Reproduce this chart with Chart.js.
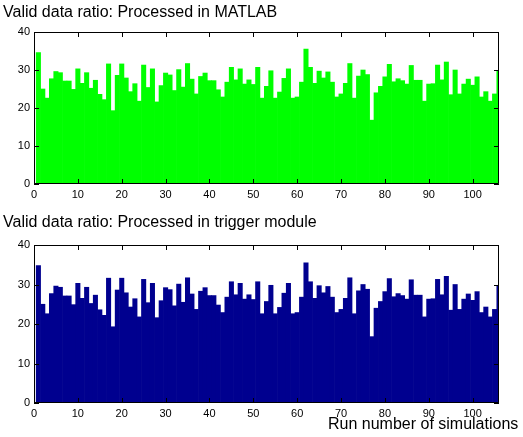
<!DOCTYPE html>
<html>
<head>
<meta charset="UTF-8">
<script src="https://cdn.jsdelivr.net/npm/chart.js@4.4.0/dist/chart.umd.min.js"></script>
<style>
  body { margin: 0; background: #fff; width: 523px; height: 437px; position: relative; overflow: hidden;
         font-family: "Liberation Sans", Arial, sans-serif; }
  .plot { position: absolute; left: 0; width: 523px; }
  .txt { position: absolute; font-size: 16px; line-height: 16px; color: #000; white-space: nowrap; }
</style>
</head>
<body>
<div class="plot" style="top:0; height:218px"><canvas id="topChart"></canvas></div>
<div class="plot" style="top:213px; height:224px"><canvas id="bottomChart"></canvas></div>
<div class="txt" style="left:3px; top:4px">Valid data ratio: Processed in MATLAB</div>
<div class="txt" style="left:3px; top:214px">Valid data ratio: Processed in trigger module</div>
<div class="txt" style="left:328px; top:416px">Run number of simulations</div>

<script>
  // valid data ratio per run (runs 1..106)
  const matlabRatio = [
    34.6, 25.0, 22.6, 27.7, 29.6, 29.3, 27.1, 27.1, 24.9, 30.3,
    26.5, 29.3, 25.2, 27.3, 23.6, 22.2, 31.6, 19.3, 28.6, 31.6,
    27.9, 24.3, 26.4, 21.8, 31.3, 25.4, 30.3, 21.6, 25.9, 29.2,
    28.7, 24.6, 30.1, 25.5, 31.7, 27.6, 23.7, 28.3, 29.2, 27.2,
    27.2, 24.8, 22.9, 26.8, 30.7, 27.4, 30.3, 26.3, 27.4, 26.2,
    30.7, 22.6, 25.7, 29.8, 22.6, 24.2, 27.8, 30.3, 22.6, 22.9,
    26.8, 35.5, 30.7, 26.5, 29.7, 27.9, 29.5, 26.8, 22.9, 23.7,
    26.5, 31.7, 22.6, 28.4, 30.0, 28.8, 16.8, 24.0, 25.7, 28.2,
    31.5, 26.9, 27.7, 27.2, 26.3, 31.2, 27.3, 27.3, 21.8, 26.3,
    26.4, 31.3, 27.4, 32.1, 23.5, 30.0, 23.7, 26.3, 27.6, 26.0,
    28.2, 22.9, 24.3, 21.8, 23.7, 29.8
  ];
  const triggerRatio = [
    34.8, 25.0, 22.6, 27.7, 29.6, 29.3, 27.1, 27.1, 24.9, 30.3,
    26.5, 29.3, 25.2, 27.3, 23.6, 22.2, 31.6, 19.3, 28.6, 31.6,
    27.9, 24.3, 26.4, 21.8, 31.3, 25.4, 30.3, 21.6, 25.9, 29.2,
    28.7, 24.6, 30.1, 25.5, 31.7, 27.6, 23.7, 28.3, 29.2, 27.2,
    27.2, 24.8, 22.9, 26.8, 30.7, 27.4, 30.3, 26.3, 27.4, 26.2,
    30.7, 22.6, 25.7, 29.8, 22.6, 24.2, 27.8, 30.3, 22.6, 22.9,
    26.8, 35.5, 30.7, 26.5, 29.7, 27.9, 29.5, 26.8, 22.9, 23.7,
    26.5, 31.7, 22.6, 28.4, 30.0, 28.8, 16.8, 24.0, 25.7, 28.2,
    31.5, 26.9, 27.7, 27.2, 26.3, 31.2, 27.3, 27.3, 21.8, 26.3,
    26.4, 31.3, 27.4, 32.1, 23.5, 30.0, 23.7, 26.3, 27.6, 26.0,
    28.2, 22.9, 24.3, 21.8, 23.7, 29.8
  ];
  const xTicks = [0, 10, 20, 30, 40, 50, 60, 70, 80, 90, 100];
  const yTicks = [0, 10, 20, 30, 40];

  // matlab style box with inward tick marks on all four sides
  const boxTicks = {
    id: 'boxTicks',
    afterDraw(chart) {
      const { ctx, chartArea: a, scales: { x, y } } = chart;
      const len = 5;
      ctx.save();
      ctx.strokeStyle = '#000';
      ctx.lineWidth = 1;
      ctx.beginPath();
      ctx.rect(a.left + 0.5, a.top + 0.5, a.right - a.left - 1, a.bottom - a.top - 1);
      xTicks.forEach(v => {
        const px = Math.round(x.getPixelForValue(v)) + 0.5;
        ctx.moveTo(px, a.bottom); ctx.lineTo(px, a.bottom - len);
        ctx.moveTo(px, a.top); ctx.lineTo(px, a.top + len);
      });
      yTicks.forEach(v => {
        const py = Math.round(y.getPixelForValue(v)) + 0.5;
        ctx.moveTo(a.left, py); ctx.lineTo(a.left + len, py);
        ctx.moveTo(a.right, py); ctx.lineTo(a.right - len, py);
      });
      ctx.stroke();
      ctx.restore();
    }
  };

  function makeChart(id, values, color) {
    const points = values.map((v, i) => ({ x: i + 1, y: v }));
    const tickFont = { family: '"Liberation Sans", Arial, sans-serif', size: 11 };
    return new Chart(document.getElementById(id), {
      type: 'bar',
      data: {
        datasets: [{
          data: points,
          backgroundColor: color,
          borderWidth: 0,
          barPercentage: 1,
          categoryPercentage: 1,
          clip: 0
        }]
      },
      options: {
        responsive: true,
        maintainAspectRatio: false,
        animation: false,
        layout: { padding: { left: 0, right: 24, top: 32, bottom: 0 } },
        plugins: { legend: { display: false }, tooltip: { enabled: false } },
        scales: {
          x: {
            type: 'linear',
            min: 0,
            max: 106,
            offset: false,
            grid: { display: false, drawTicks: false },
            border: { display: false },
            afterBuildTicks: s => { s.ticks = xTicks.map(v => ({ value: v })); },
            afterFit: s => { s.height = 34; },
            ticks: { autoSkip: false, maxRotation: 0, padding: 4, color: '#000', font: tickFont }
          },
          y: {
            min: 0,
            max: 40,
            grid: { display: false, drawTicks: false },
            border: { display: false },
            afterBuildTicks: s => { s.ticks = yTicks.map(v => ({ value: v })); },
            afterFit: s => { s.width = 34; },
            ticks: { padding: 4, color: '#000', font: tickFont }
          }
        }
      },
      plugins: [boxTicks]
    });
  }

  makeChart('topChart', matlabRatio, '#00ff00');
  makeChart('bottomChart', triggerRatio, '#00008f');
</script>
</body>
</html>
